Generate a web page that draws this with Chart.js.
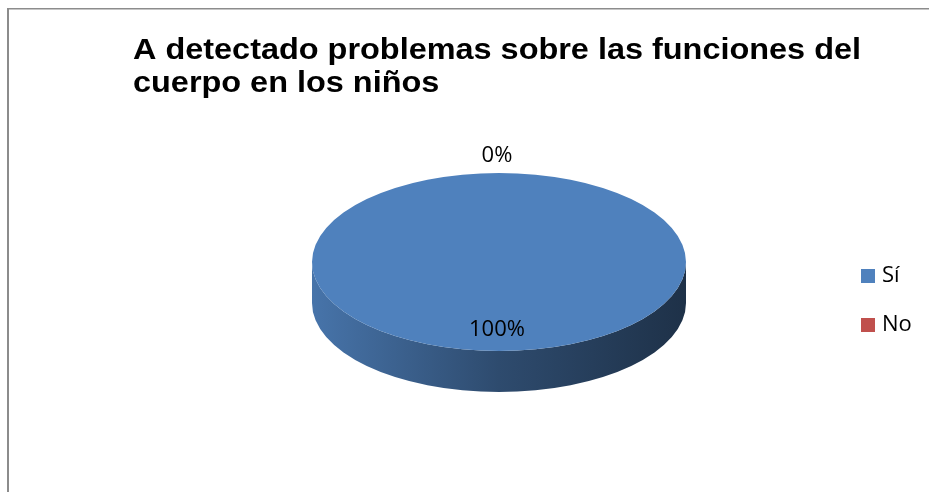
<!DOCTYPE html>
<html>
<head>
<meta charset="utf-8">
<script src="https://cdn.jsdelivr.net/npm/chart.js@4/dist/chart.umd.min.js"></script>
<style>
  html, body { margin: 0; padding: 0; background: #ffffff; }
  #c { display: block; }
</style>
</head>
<body>
<canvas id="c" width="929" height="492"></canvas>
<script>
// ---- data ----
const titleLines = ['A detectado problemas sobre las funciones del', 'cuerpo en los niños'];
const categories = ['Sí', 'No'];
const values = [100, 0];
const percentLabels = ['100%', '0%'];
const colors = ['#4F81BD', '#C0504D'];

// ---- helpers ----
function shade(hex, f) {
  const n = parseInt(hex.slice(1), 16);
  const r = Math.round(((n >> 16) & 255) * f);
  const g = Math.round(((n >> 8) & 255) * f);
  const b = Math.round((n & 255) * f);
  return `rgb(${r},${g},${b})`;
}

const TILT = 89 / 187;
const DEPTH = 41;

const pie3d = {
  id: 'pie3d',
  beforeDraw(chart) {
    const ctx = chart.ctx;
    ctx.save();
    ctx.fillStyle = '#ffffff';
    ctx.fillRect(0, 0, chart.width, chart.height);
    ctx.fillStyle = '#8c8c8c';
    ctx.fillRect(8, 8, chart.width - 8, 1.5);
    ctx.fillRect(7, 8, 2, chart.height - 8);
    ctx.restore();
  },
  beforeDatasetsDraw(chart) {
    const ctx = chart.ctx;
    const meta = chart.getDatasetMeta(0);
    const a = meta.data[0];
    const cx = a.x, cy = a.y, r = a.outerRadius, ry = r * TILT;
    meta.data.forEach((arc, i) => {
      const s = arc.startAngle, e = arc.endAngle;
      if (e - s <= 0) return;
      const grad = ctx.createLinearGradient(cx - r, 0, cx + r, 0);
      grad.addColorStop(0, shade(colors[i], 0.9));
      grad.addColorStop(0.5, shade(colors[i], 0.58));
      grad.addColorStop(1, shade(colors[i], 0.38));
      [-2 * Math.PI, 0, 2 * Math.PI].forEach(m => {
        const a0 = Math.max(s, m), a1 = Math.min(e, Math.PI + m);
        if (a1 <= a0) return;
        ctx.save();
        ctx.beginPath();
        ctx.ellipse(cx, cy, r, ry, 0, a0, a1);
        ctx.ellipse(cx, cy + DEPTH, r, ry, 0, a1, a0, true);
        ctx.closePath();
        ctx.fillStyle = grad;
        ctx.fill();
        ctx.restore();
      });
    });
    ctx.save();
    ctx.translate(cx, cy);
    ctx.scale(1, TILT);
    ctx.translate(-cx, -cy);
  },
  afterDatasetsDraw(chart) {
    chart.ctx.restore();
  },
  afterDraw(chart) {
    const ctx = chart.ctx;
    const meta = chart.getDatasetMeta(0);
    const total = values.reduce((p, v) => p + v, 0);
    ctx.save();
    // title (horizontally stretched like the original rendering)
    ctx.fillStyle = '#000000';
    ctx.font = 'bold 30px "Liberation Sans", Arial, sans-serif';
    ctx.textAlign = 'left';
    ctx.textBaseline = 'alphabetic';
    const sx = 728 / ctx.measureText(titleLines[0]).width;
    titleLines.forEach((t, i) => {
      ctx.save();
      ctx.translate(133, 59 + i * 33);
      ctx.scale(sx, 1);
      ctx.fillText(t, 0, 0);
      ctx.restore();
    });
    // data labels
    ctx.font = '22px "Open Sans", sans-serif';
    ctx.textAlign = 'center';
    ctx.textBaseline = 'middle';
    meta.data.forEach((arc, i) => {
      const mid = (arc.startAngle + arc.endAngle) / 2;
      const r = arc.outerRadius;
      const share = values[i] / total;
      let x, y;
      if (share < 0.05) {
        x = arc.x + (r + 18) * Math.cos(mid);
        y = arc.y + (r * TILT + 18) * Math.sin(mid);
      } else {
        x = arc.x + 0.75 * r * Math.cos(mid);
        y = arc.y + 0.75 * r * TILT * Math.sin(mid);
      }
      ctx.fillText(percentLabels[i], x - 2, y + 1);
    });
    // legend
    ctx.font = '22px "Open Sans", sans-serif';
    ctx.textAlign = 'left';
    categories.forEach((c, i) => {
      const y = 269 + i * 49;
      ctx.fillStyle = colors[i];
      ctx.fillRect(861, y, 14, 14);
      ctx.fillStyle = '#000000';
      ctx.fillText(c, 882, y + 7);
    });
    ctx.restore();
  }
};

new Chart(document.getElementById('c'), {
  type: 'pie',
  data: {
    labels: categories,
    datasets: [{
      data: values,
      backgroundColor: colors,
      borderWidth: 0,
      hoverOffset: 0
    }]
  },
  options: {
    responsive: false,
    animation: false,
    events: [],
    layout: { padding: { left: 312, right: 243, top: 75, bottom: 43 } },
    plugins: {
      legend: { display: false },
      title: { display: false },
      tooltip: { enabled: false }
    }
  },
  plugins: [pie3d]
});
</script>
</body>
</html>
